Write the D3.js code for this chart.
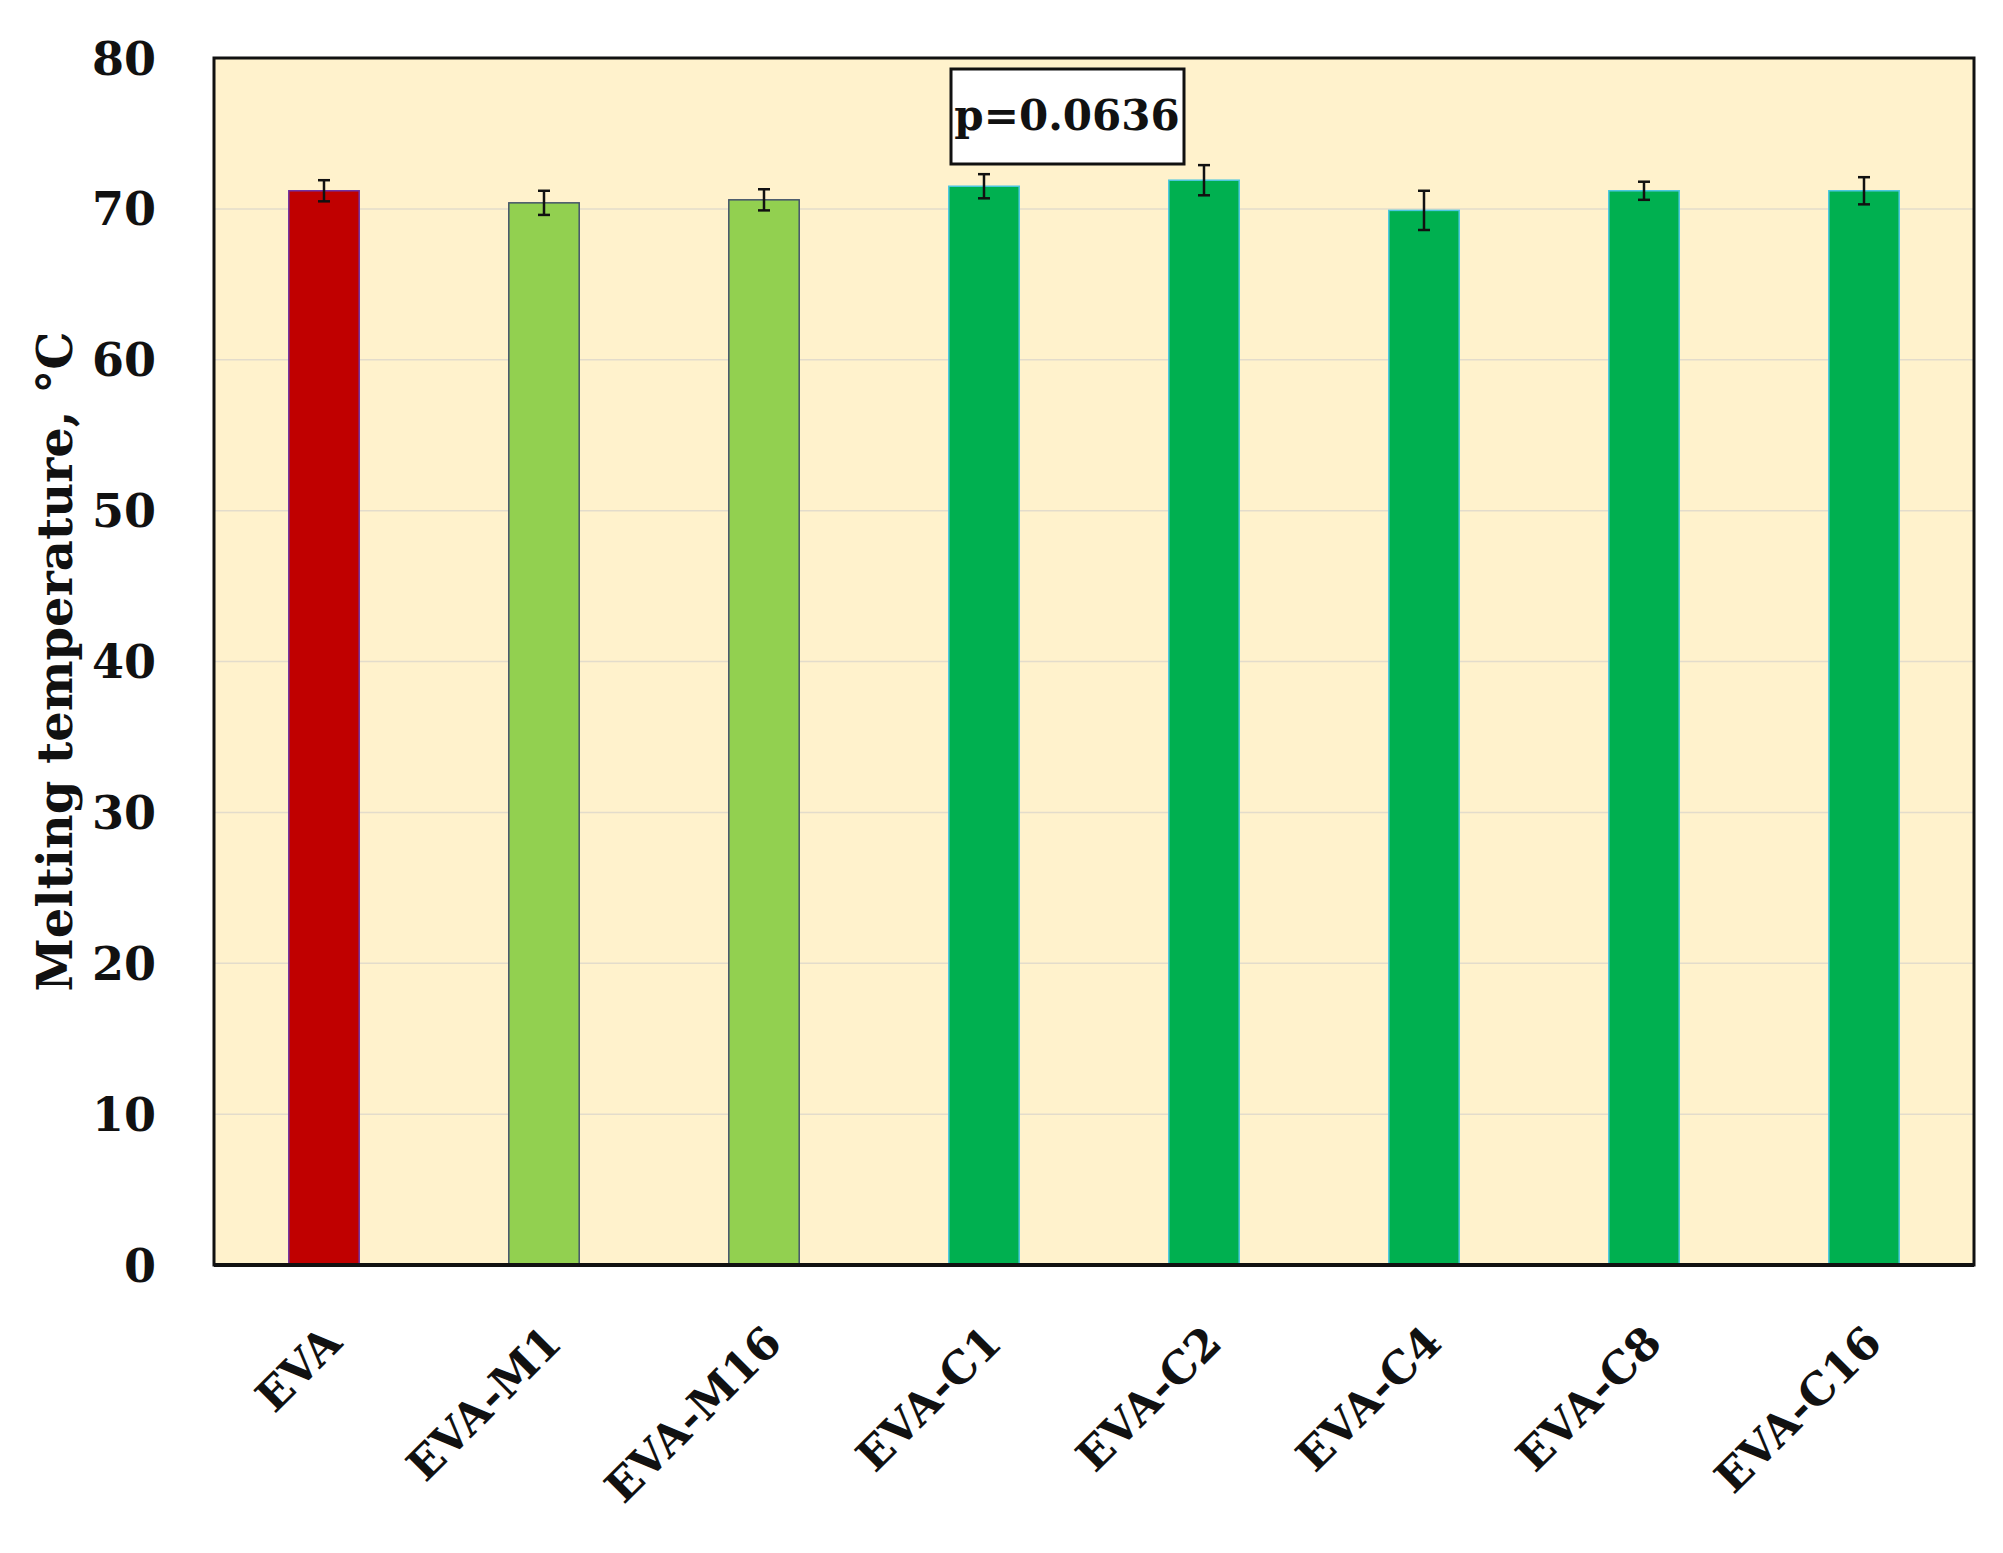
<!DOCTYPE html>
<html><head><meta charset="utf-8">
<script src="https://cdn.jsdelivr.net/npm/d3@7"></script>
<style>body{margin:0;background:#fff}text{font-family:"DejaVu Serif","Liberation Serif",serif;font-weight:bold;fill:#111}</style>
</head><body><div id="chart"></div>
<script>
var categories = ["EVA","EVA-M1","EVA-M16","EVA-C1","EVA-C2","EVA-C4","EVA-C8","EVA-C16"];
var values = [71.2,70.4,70.6,71.5,71.9,69.9,71.2,71.2];
var errors = [0.7,0.8,0.7,0.8,1.0,1.3,0.6,0.9];
var fills = ["#c00000","#92d050","#92d050","#00b050","#00b050","#00b050","#00b050","#00b050"];
var strokes = ["#7030a0","#44546a","#44546a","#4bc6e0","#4bc6e0","#4bc6e0","#4bc6e0","#4bc6e0"];
var yTicks = [0,10,20,30,40,50,60,70,80];

var W=2003,H=1553,L=214,R=1974,T=58,B=1265;
var svg=d3.select("#chart").append("svg").attr("width",W).attr("height",H);
var x=d3.scaleBand().domain(categories).range([L,R]).paddingInner(0.68).paddingOuter(0.34);
var y=d3.scaleLinear().domain([0,80]).range([B,T]);

svg.append("rect").attr("x",L).attr("y",T).attr("width",R-L).attr("height",B-T).attr("fill","#fff2cc");
svg.selectAll(".grid").data(yTicks.slice(1,-1)).enter().append("line")
  .attr("x1",L).attr("x2",R).attr("y1",d=>y(d)).attr("y2",d=>y(d)).attr("stroke","#e3dccb").attr("stroke-width",1.5);

svg.selectAll(".bar").data(values).enter().append("rect")
  .attr("x",(d,i)=>x(categories[i])).attr("width",x.bandwidth())
  .attr("y",d=>y(d)).attr("height",d=>B-y(d))
  .attr("fill",(d,i)=>fills[i]).attr("stroke",(d,i)=>strokes[i]).attr("stroke-width",1.5);

var eb=svg.selectAll(".err").data(values).enter().append("g").attr("stroke","#111").attr("stroke-width",2.5);
eb.append("line").attr("x1",(d,i)=>x(categories[i])+x.bandwidth()/2).attr("x2",(d,i)=>x(categories[i])+x.bandwidth()/2)
  .attr("y1",(d,i)=>y(d-errors[i])).attr("y2",(d,i)=>y(d+errors[i]));
[-1,1].forEach(function(s){
  eb.append("line").attr("x1",(d,i)=>x(categories[i])+x.bandwidth()/2-6).attr("x2",(d,i)=>x(categories[i])+x.bandwidth()/2+6)
    .attr("y1",(d,i)=>y(d+s*errors[i])).attr("y2",(d,i)=>y(d+s*errors[i]));
});

svg.append("rect").attr("x",L).attr("y",T).attr("width",R-L).attr("height",B-T).attr("fill","none").attr("stroke","#111").attr("stroke-width",3);
svg.append("line").attr("x1",L).attr("x2",R).attr("y1",B).attr("y2",B).attr("stroke","#111").attr("stroke-width",4);

var ya=svg.append("g").attr("transform","translate("+L+",0)").call(d3.axisLeft(y).tickValues(yTicks).tickSize(0).tickPadding(58));
ya.select(".domain").remove();
ya.selectAll("text").attr("font-size",46).style("font-family","DejaVu Serif").style("font-weight","bold").attr("fill","#111").attr("dy","0.35em");

var xa=svg.append("g").attr("transform","translate(0,"+B+")").call(d3.axisBottom(x).tickSize(0));
xa.select(".domain").remove();
xa.selectAll("text").attr("font-size",44).style("font-family","DejaVu Serif").style("font-weight","bold").attr("fill","#111")
  .attr("text-anchor","end").attr("dy",0).attr("y",0)
  .attr("transform","translate(20,80) rotate(-45)");

svg.append("text").attr("transform","translate(72,"+((T+B)/2)+") rotate(-90)").attr("text-anchor","middle")
  .attr("font-size",48).text("Melting temperature, °C");

svg.append("rect").attr("x",951).attr("y",69).attr("width",233).attr("height",95).attr("fill","#fff").attr("stroke","#111").attr("stroke-width",3);
svg.append("text").attr("x",1067).attr("y",130).attr("text-anchor","middle").attr("font-size",42).text("p=0.0636");
</script></body></html>
